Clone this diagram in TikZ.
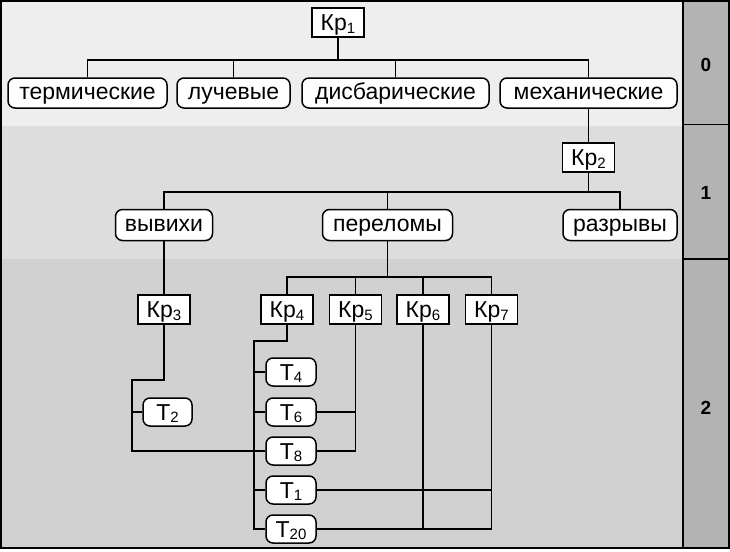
\documentclass[tikz,border=0pt]{standalone}
\usepackage{fontspec}
\setmainfont{Liberation Sans}
\begin{document}
\begin{tikzpicture}[x=1pt,y=-1pt,
  every node/.style={font=\fontsize{23}{25}\selectfont, inner sep=0pt},
  sqbox/.style={draw=black, fill=white, line width=1.5pt, minimum width=52pt, minimum height=29pt, text height=16.5pt, text depth=0pt},
  rbox/.style={draw=black, fill=white, line width=1.5pt, rounded corners=7pt, minimum height=30pt, text height=12pt, text depth=0pt},
  tbox/.style={draw=black, fill=white, line width=1.5pt, rounded corners=7pt, minimum width=50pt, minimum height=28pt, text height=16.5pt, text depth=0pt},
  conn/.style={draw=black, line width=1.4pt},
  lvl/.style={font=\fontsize{19}{21}\selectfont\bfseries}]
\definecolor{bandA}{HTML}{EEEEEE}
\definecolor{bandB}{HTML}{DDDDDD}
\definecolor{bandC}{HTML}{D1D1D1}
\definecolor{colgray}{HTML}{B3B3B3}
\newcommand{\sbs}[1]{{\fontsize{15}{15}\selectfont\raisebox{-2.5pt}{#1}}}
\useasboundingbox (0,0) rectangle (730,551);
% backgrounds
\fill[bandA] (0,0) rectangle (683,126);
\fill[bandB] (0,126) rectangle (683,259);
\fill[bandC] (0,259) rectangle (683,549);
\fill[colgray] (683,0) rectangle (729,549);
\draw[line width=1.4pt] (683,0) -- (683,549);
\draw[line width=1.4pt] (683,124.5) -- (729,124.5);
\draw[line width=1.4pt] (683,259) -- (729,259);
\draw[line width=2pt] (1,1) rectangle (729,548);
\node[lvl] (l0) at (706,65) {0};
\node[lvl] (l1) at (706,193) {1};
\node[lvl] (l2) at (706,408) {2};
% bus coordinates
\coordinate (b0) at (0,60);
\coordinate (b1) at (0,192);
\coordinate (b2) at (0,277);
\coordinate (k3b) at (132,380);
\coordinate (k4b) at (254,341);
% nodes
\node[sqbox] (kr1) at (338,22.5) {Кр\sbs{1}};
\node[rbox, minimum width=159pt] (term) at (87.5,93) {термические};
\node[rbox, minimum width=113pt] (luch) at (233.5,93) {лучевые};
\node[rbox, minimum width=187pt] (disb) at (395.5,93) {дисбарические};
\node[rbox, minimum width=177pt] (mech) at (588.5,93) {механические};
\node[sqbox] (kr2) at (588.5,157.5) {Кр\sbs{2}};
\node[rbox, minimum width=97pt, minimum height=31pt] (vyv) at (164,225) {вывихи};
\node[rbox, minimum width=130pt, minimum height=31pt] (perel) at (387.5,225) {переломы};
\node[rbox, minimum width=114pt, minimum height=31pt] (razr) at (620,225) {разрывы};
\node[sqbox] (kr3) at (164,309.5) {Кр\sbs{3}};
\node[sqbox] (kr4) at (287,309.5) {Кр\sbs{4}};
\node[sqbox] (kr5) at (355.5,309.5) {Кр\sbs{5}};
\node[sqbox] (kr6) at (423,309.5) {Кр\sbs{6}};
\node[sqbox] (kr7) at (491.5,309.5) {Кр\sbs{7}};
\node[tbox, minimum width=49pt] (t2) at (167.5,412) {Т\sbs{2}};
\node[tbox] (t4) at (291,372) {Т\sbs{4}};
\node[tbox] (t6) at (291,412) {Т\sbs{6}};
\node[tbox] (t8) at (291,451) {Т\sbs{8}};
\node[tbox] (t1) at (291,490) {Т\sbs{1}};
\node[tbox] (t20) at (291,529) {Т\sbs{20}};
% connectors level 0
\draw[conn] (kr1.south) -- (kr1.south |- b0);
\draw[conn] (term.north) |- (mech.north |- b0) -- (mech.north);
\draw[conn] (luch.north) -- (luch.north |- b0);
\draw[conn] (disb.north) -- (disb.north |- b0);
\draw[conn] (mech.south) -- (kr2.north);
% level 1
\draw[conn] (kr2.south) -- (kr2.south |- b1);
\draw[conn] (vyv.north) |- (razr.north |- b1) -- (razr.north);
\draw[conn] (perel.north) -- (perel.north |- b1);
% level 2
\draw[conn] (vyv.south) -- (kr3.north);
\draw[conn] (perel.south) -- (perel.south |- b2);
\draw[conn] (kr4.north) |- (kr7.north |- b2) -- (kr7.north);
\draw[conn] (kr5.north) -- (kr5.north |- b2);
\draw[conn] (kr6.north) -- (kr6.north |- b2);
\draw[conn] (kr3.south) |- (k3b) |- (t8.west);
\draw[conn] (t2.west) -- (t2.west -| k3b);
\draw[conn] (kr4.south) |- (k4b) |- (t20.west);
\draw[conn] (t4.west) -- (t4.west -| k4b);
\draw[conn] (t6.west) -- (t6.west -| k4b);
\draw[conn] (t1.west) -- (t1.west -| k4b);
\draw[conn] (kr5.south) |- (t8.east);
\draw[conn] (t6.east) -- (t6.east -| kr5.south);
\draw[conn] (kr6.south) |- (t20.east);
\draw[conn] (kr7.south) |- (t20.east);
\draw[conn] (t1.east) -- (t1.east -| kr7.south);
\end{tikzpicture}
\end{document}
